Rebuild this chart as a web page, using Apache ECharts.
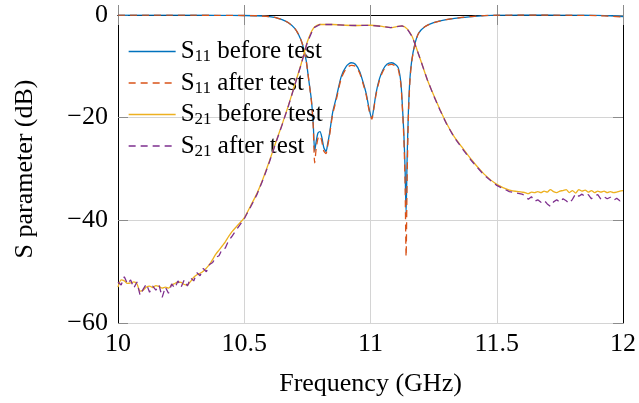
<!DOCTYPE html>
<html>
<head>
<meta charset="utf-8">
<script src="https://cdn.jsdelivr.net/npm/echarts@6/dist/echarts.min.js"></script>
<style>
  html, body { margin: 0; padding: 0; background: #fff; }
  #chart { width: 639px; height: 403px; }
</style>
</head>
<body>
<div id="chart"></div>
<script>
// S11 (reflection) sampling points, GHz
let f11 = [
    10.00, 10.10, 10.20, 10.30, 10.40, 10.50, 10.55, 10.60, 10.625, 10.65,
    10.675, 10.70, 10.715, 10.73, 10.745, 10.755, 10.766, 10.773, 10.779, 10.785,
    10.792, 10.80, 10.808, 10.815, 10.824, 10.83, 10.838, 10.85, 10.864, 10.884,
    10.904, 10.924, 10.94, 10.957, 10.97, 10.983, 10.995, 11.005, 11.014, 11.022,
    11.035, 11.049, 11.065, 11.084, 11.10, 11.11, 11.12, 11.125, 11.132, 11.137,
    11.141, 11.145, 11.15, 11.156, 11.163, 11.175, 11.19, 11.215, 11.25, 11.30,
    11.35, 11.40, 11.45, 11.50, 11.60, 11.70, 11.80, 11.90, 11.95, 12.00
];
let s11Before = [
    -0.02, -0.02, -0.03, -0.04, -0.06, -0.1, -0.15, -0.3, -0.5, -0.9,
    -1.5, -2.6, -3.8, -5.6, -8.8, -12.5, -16.6, -21, -26.5, -24.6,
    -23, -22.7, -24, -25.8, -26.6, -25.2, -23, -19, -16.2, -12,
    -10, -9.3, -9.6, -11, -13, -15.3, -18.4, -20.1, -17.8, -15.2,
    -12.5, -10.7, -9.6, -9.3, -9.7, -10.3, -13, -16.6, -23, -30,
    -38.6, -28, -19, -12.5, -9, -5.8, -3.6, -2.3, -1.5, -0.9,
    -0.55, -0.3, -0.12, -0.03, 0, 0, -0.02, -0.08, -0.15, -0.3
];
let s11After = [
    -0.02, -0.02, -0.03, -0.04, -0.06, -0.1, -0.15, -0.3, -0.5, -0.9,
    -1.5, -2.6, -3.8, -5.6, -8.8, -12.5, -16.8, -21.5, -28.8, -26,
    -24, -23.5, -24.8, -26.5, -27, -25.6, -23.4, -19.4, -16.6, -12.4,
    -10.4, -9.8, -10, -11.3, -13.3, -15.6, -18.7, -20.3, -18, -15.5,
    -12.8, -11, -9.9, -9.6, -10, -10.6, -13.4, -17, -24, -33,
    -47.1, -32, -20, -13, -9.2, -5.9, -3.6, -2.3, -1.5, -0.9,
    -0.55, -0.3, -0.12, -0.03, 0, 0, -0.05, -0.12, -0.22, -0.4
];

// S21 (transmission) sampling points, GHz
let f21Low = [
    10.0000, 10.0125, 10.0250, 10.0375, 10.0500, 10.0625, 10.0750, 10.0875, 10.1000, 10.1125,
    10.1250, 10.1375, 10.1500, 10.1625, 10.1750, 10.1875, 10.2000, 10.2125, 10.2250, 10.2375,
    10.2500, 10.2625, 10.2750, 10.2875, 10.3000, 10.3125, 10.3250, 10.3375, 10.3500, 10.3625,
    10.3750, 10.3875, 10.4000, 10.4125, 10.4250, 10.4375, 10.4500
];
let f21Mid = [
    10.475, 10.50, 10.525, 10.55, 10.575, 10.60, 10.625, 10.65, 10.675, 10.70,
    10.725, 10.75, 10.775, 10.80, 10.85, 10.90, 10.95, 11.00, 11.05, 11.08,
    11.10, 11.125, 11.145, 11.165, 11.18, 11.20, 11.225, 11.25, 11.275, 11.30,
    11.33, 11.36, 11.40, 11.45, 11.50, 11.55, 11.60
];
let f21High = [
    11.6125, 11.6250, 11.6375, 11.6500, 11.6625, 11.6750, 11.6875, 11.7000,
    11.7125, 11.7250, 11.7375, 11.7500, 11.7625, 11.7750, 11.7875, 11.8000,
    11.8125, 11.8250, 11.8375, 11.8500, 11.8625, 11.8750, 11.8875, 11.9000,
    11.9125, 11.9250, 11.9375, 11.9500, 11.9625, 11.9750, 11.9875, 12.0000
];

let s21BeforeLow = [
    -53.0, -51.6, -51.8, -52.3, -52.2, -52.0, -52.4, -53.8, -53.6, -53.0,
    -52.8, -53.1, -52.7, -52.9, -53.2, -53.0, -53.2, -52.6, -52.3, -52.0,
    -52.1, -52.5, -52.6, -51.9, -51.1, -50.6, -50.3, -49.9, -49.3, -48.6,
    -47.6, -46.6, -45.8, -45.0, -44.2, -43.2, -42.3
];
let s21BeforeMid = [
    -40.9, -39.5, -37.2, -34.8, -31.8, -28.4, -24.8, -21.3, -17.6, -13.6,
    -9.6, -5.2, -2.5, -1.85, -1.85, -2.0, -2.05, -2.0, -2.25, -2.45,
    -2.3, -2.1, -2.7, -4.2, -6.2, -9.0, -12.6, -15.6, -18.4, -21.0,
    -23.6, -25.6, -28.2, -31.0, -33.0, -34.1, -34.5
];
let s21BeforeHigh = [
    -34.6, -34.8, -34.5, -34.6, -34.4, -34.6, -34.3, -34.5,
    -34.0, -34.4, -34.6, -34.3, -34.2, -34.0, -34.6, -34.2,
    -34.7, -34.0, -34.3, -34.1, -34.5, -34.2, -34.6, -34.3,
    -34.5, -34.3, -34.6, -34.4, -34.6, -34.5, -34.3, -34.2
];

let s21AfterLow = [
    -52.0, -52.6, -51.0, -52.4, -51.6, -53.2, -52.0, -54.6, -53.4, -52.4,
    -54.0, -52.8, -53.6, -52.6, -55.0, -53.0, -54.2, -52.4, -53.2, -51.8,
    -53.0, -51.6, -52.8, -51.2, -51.8, -50.2, -50.8, -49.4, -50.0, -48.6,
    -48.2, -47.2, -46.9, -45.6, -45.4, -44.0, -43.2
];
let s21AfterMid = [
    -41.4, -39.7, -37.4, -35.0, -32.0, -28.6, -24.9, -21.4, -17.7, -13.7,
    -9.7, -5.3, -2.5, -1.85, -1.85, -2.0, -2.05, -2.0, -2.25, -2.45,
    -2.3, -2.1, -2.7, -4.2, -6.2, -9.0, -12.6, -15.7, -18.5, -21.1,
    -23.7, -25.8, -28.4, -31.2, -33.2, -34.4, -34.9
];
let s21AfterHigh = [
    -35.2, -35.9, -35.4, -36.3, -36.0, -36.5, -36.1, -36.8,
    -37.3, -36.4, -36.0, -36.5, -35.8, -36.2, -36.7, -35.9,
    -34.8, -35.3, -34.9, -35.4, -35.0, -35.8, -35.2, -35.0,
    -35.9, -35.4, -35.8, -35.5, -36.1, -35.7, -36.2, -35.9
];

let xTicks = [10, 10.5, 11, 11.5, 12];
let yTicks = [-60, -40, -20, 0];

function zip(xs, ys) {
    let out = [];
    for (let i = 0; i < xs.length; i++) {
        out.push([xs[i], ys[i]]);
    }
    return out;
}

let f21 = f21Low.concat(f21Mid, f21High);
let s21Before = s21BeforeLow.concat(s21BeforeMid, s21BeforeHigh);
let s21After = s21AfterLow.concat(s21AfterMid, s21AfterHigh);

let serif = '"Liberation Serif", "DejaVu Serif", serif';
let minus = v => (v < 0 ? '\u2212' + Math.abs(v) : String(v));

let names = ['S11 before test', 'S11 after test', 'S21 before test', 'S21 after test'];

function mkAxisTick(show) {
    return { show: show, inside: true, length: 10, lineStyle: { color: '#8c8c8c', width: 1 } };
}

let option = {
    animation: false,
    backgroundColor: '#fff',
    grid: { left: 118, right: 15, top: 15, bottom: 80 },
    legend: {
        left: 128,
        top: 39,
        orient: 'vertical',
        padding: 0,
        itemGap: 5,
        itemWidth: 47,
        itemHeight: 14,
        itemStyle: { opacity: 0 },
        lineStyle: { width: 1.3 },
        data: names,
        formatter: function (name) {
            let p = name.split(' ');
            let sub = p[0].slice(1);
            return '{a|S}{b|' + sub + '}{a| ' + p.slice(1).join(' ') + '}';
        },
        textStyle: {
            rich: {
                a: { fontFamily: serif, fontSize: 25, color: '#000', lineHeight: 28 },
                b: { fontFamily: serif, fontSize: 17, color: '#000', lineHeight: 17, verticalAlign: 'bottom' }
            }
        }
    },
    xAxis: [{
        type: 'value',
        min: 10,
        max: 12,
        interval: 0.5,
        name: 'Frequency (GHz)',
        nameLocation: 'middle',
        nameGap: 48,
        nameTextStyle: { fontFamily: serif, fontSize: 26, color: '#000' },
        axisLine: { show: true, lineStyle: { color: '#000', width: 1 } },
        axisTick: mkAxisTick(true),
        axisLabel: { fontFamily: serif, fontSize: 26, color: '#000', margin: 8, formatter: v => String(v) },
        splitLine: { show: true, lineStyle: { color: '#d4d4d4', width: 1 } }
    }, {
        type: 'value',
        position: 'top',
        min: 10,
        max: 12,
        interval: 0.5,
        axisLine: { show: true, onZero: false, lineStyle: { color: '#000', width: 1 } },
        axisTick: mkAxisTick(true),
        axisLabel: { show: false },
        splitLine: { show: false }
    }],
    yAxis: [{
        type: 'value',
        min: -60,
        max: 0,
        interval: 20,
        name: 'S parameter (dB)',
        nameLocation: 'middle',
        nameGap: 80,
        nameTextStyle: { fontFamily: serif, fontSize: 26, color: '#000' },
        axisLine: { show: true, onZero: false, lineStyle: { color: '#000', width: 1 } },
        axisTick: mkAxisTick(true),
        axisLabel: { fontFamily: serif, fontSize: 26, color: '#000', margin: 10, formatter: minus },
        splitLine: { show: true, lineStyle: { color: '#d4d4d4', width: 1 } }
    }, {
        type: 'value',
        position: 'right',
        min: -60,
        max: 0,
        interval: 20,
        axisLine: { show: true, onZero: false, lineStyle: { color: '#000', width: 1 } },
        axisTick: mkAxisTick(true),
        axisLabel: { show: false },
        splitLine: { show: false }
    }],
    series: [
        {
            name: names[0], type: 'line', symbol: 'none', smooth: 0.25,
            lineStyle: { color: '#0072BD', width: 1.3 }, itemStyle: { color: '#0072BD' },
            data: zip(f11, s11Before), z: 2
        },
        {
            name: names[1], type: 'line', symbol: 'none', smooth: 0.25,
            lineStyle: { color: '#D95319', width: 1.3, type: [7, 5] }, itemStyle: { color: '#D95319' },
            data: zip(f11, s11After), z: 3
        },
        {
            name: names[2], type: 'line', symbol: 'none', smooth: 0.25,
            lineStyle: { color: '#EDB120', width: 1.3 }, itemStyle: { color: '#EDB120' },
            data: zip(f21, s21Before), z: 4
        },
        {
            name: names[3], type: 'line', symbol: 'none', smooth: false,
            lineStyle: { color: '#7E2F8E', width: 1.3, type: [7, 5] }, itemStyle: { color: '#7E2F8E' },
            data: zip(f21, s21After), z: 5
        }
    ]
};

let chart = echarts.init(document.getElementById('chart'), null, { renderer: 'canvas' });
chart.setOption(option);
</script>
</body>
</html>
